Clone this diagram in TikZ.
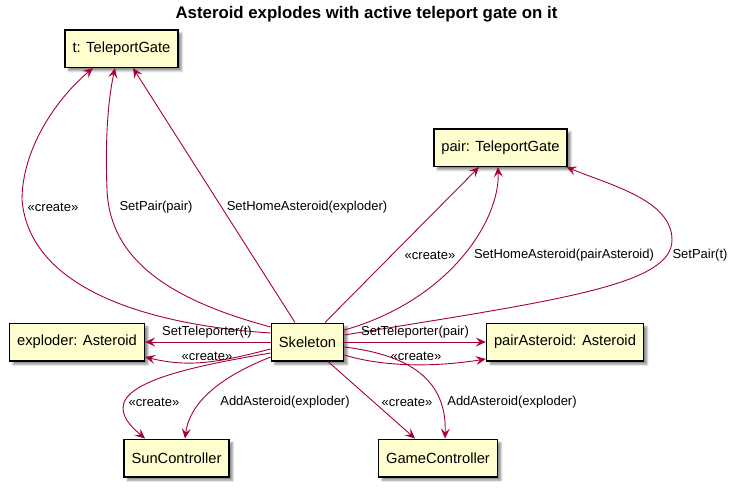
\documentclass[tikz,border=0pt]{standalone}
\usepackage{fontspec}
\setmainfont{Liberation Sans}
\usetikzlibrary{arrows.meta,shadows.blur}
\definecolor{umlfill}{HTML}{FEFECE}
\definecolor{umlarrow}{HTML}{A80036}
\begin{document}
\begin{tikzpicture}[x=1pt,y=-1pt,
  obj/.style={draw=black, line width=1.5pt, fill=umlfill, minimum height=37.5pt, inner xsep=7.5pt,
    font=\fontsize{14.7}{17}\selectfont,
    blur shadow={shadow xshift=3.5pt, shadow yshift=-3.5pt, shadow blur steps=4, shadow opacity=45}},
  msg/.style={draw=umlarrow, line width=0.9pt, -{Stealth[length=10pt,width=9pt,inset=4pt]}},
  lbl/.style={font=\fontsize{13}{15}\selectfont, inner sep=0pt}]
\useasboundingbox (0,0) rectangle (733,488);
\node[font=\bfseries\fontsize{16.8}{19}\selectfont] (title) at (366.5,14) {Asteroid explodes with active teleport gate on it};

\node[obj] (t) at (121.5,48.5) {t: TeleportGate};
\node[obj] (pair) at (500.5,147.5) {pair: TeleportGate};
\node[obj] (exploder) at (77,342) {exploder: Asteroid};
\node[obj] (skel) at (307.5,342) {Skeleton};
\node[obj] (pairast) at (565,342) {pairAsteroid: Asteroid};
\node[obj] (sun) at (176.5,458) {SunController};
\node[obj] (game) at (438,458) {GameController};

% to t
\draw[msg] ([yshift=9pt]skel.west) .. controls (150,325) and (30,290) .. (22,200)
  .. controls (22,150) and (55,100) .. ([xshift=-28.5pt]t.south);
\draw[msg] ([yshift=15pt]skel.west) .. controls (170,300) and (110,260) .. (107,190)
  .. controls (105,140) and (108,100) .. ([xshift=-6.5pt]t.south);
\draw[msg] ([xshift=-12.5pt]skel.north) -- ([xshift=11.5pt]t.south);
\node[lbl] (l1) at (53,207) {«create»};
\node[lbl] (l2) at (156,207) {SetPair(pair)};
\node[lbl] (l3) at (307,207) {SetHomeAsteroid(exploder)};

% to pair
\draw[msg] ([xshift=17.5pt]skel.north) -- ([xshift=-21.5pt]pair.south);
\draw[msg] ([yshift=12pt]skel.east) .. controls (450,300) and (500,220) .. ([xshift=-2.5pt]pair.south);
\draw[msg] ([yshift=7pt]skel.east) .. controls (560,300) and (672,285) .. (672,240)
  .. controls (672,200) and (610,185) .. ([xshift=-1.5pt]pair.south east);
\node[lbl] (l4) at (430,255) {«create»};
\node[lbl] (l5) at (564,255) {SetHomeAsteroid(pairAsteroid)};
\node[lbl] (l6) at (700,255) {SetPair(t)};

% to exploder
\draw[msg] (skel.west) -- (exploder.east);
\draw[msg] ([yshift=-7pt]skel.west) .. controls (220,362) and (190,368) .. ([yshift=-15pt]exploder.east);
\node[lbl] (l7) at (207,332) {SetTeleporter(t)};
\node[lbl] (l8) at (207,356) {«create»};

% to pairast
\draw[msg] (skel.east) -- (pairast.west);
\draw[msg] ([yshift=-13pt]skel.east) .. controls (380,366) and (430,368) .. ([yshift=-17pt]pairast.west);
\node[lbl] (l9) at (415,332) {SetTeleporter(pair)};
\node[lbl] (l10) at (416,356) {«create»};

% to sun
\draw[msg] ([yshift=-11pt]skel.west) .. controls (200,365) and (123,380) .. (123,408)
  .. controls (123,420) and (135,430) .. ([xshift=-31.5pt]sun.north);
\draw[msg] ([yshift=-15pt]skel.west) .. controls (225,375) and (190,400) .. ([xshift=8.5pt]sun.north);
\node[lbl] (l11) at (154,402) {«create»};
\node[lbl] (l12) at (285,402) {AddAsteroid(exploder)};

% to game
\draw[msg] ([xshift=20.5pt]skel.south) -- ([xshift=-23pt]game.north);
\draw[msg] ([yshift=-5pt]skel.east) .. controls (410,355) and (447,380) .. ([xshift=7pt]game.north);
\node[lbl] (l13) at (407,402) {«create»};
\node[lbl] (l14) at (512,402) {AddAsteroid(exploder)};
\end{tikzpicture}
\end{document}
